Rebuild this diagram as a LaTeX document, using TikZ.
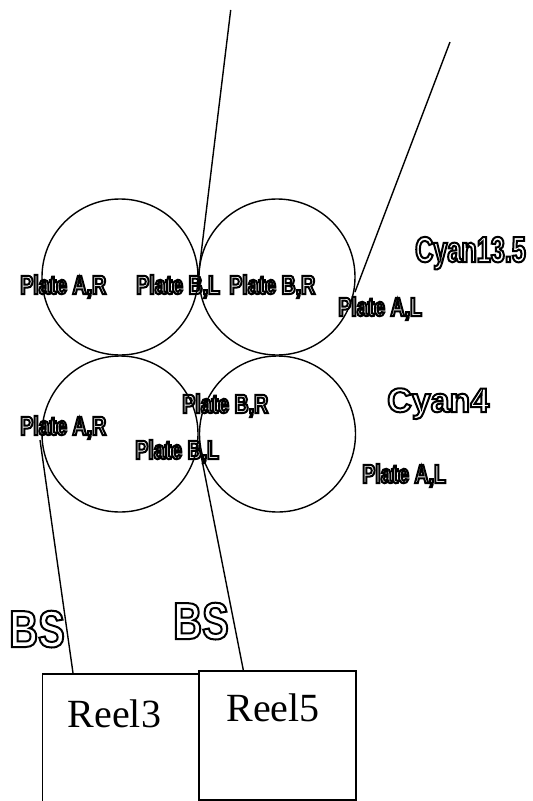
\documentclass[tikz,border=0pt]{standalone}
\usepackage{fontspec}
\setmainfont{Liberation Serif}
\newfontfamily\plfont{Liberation Sans}[FakeStretch=0.74]
\newfontfamily\cyfont{Liberation Sans}[FakeStretch=0.70]
\newfontfamily\bsfont{Liberation Sans}[FakeStretch=0.77]
\newfontfamily\cyfourfont{Liberation Sans}
\newcommand\hollow[1]{\special{pdf:literal direct 1 Tr 2 w}#1\special{pdf:literal direct 0 Tr}}
\tikzset{
  roll/.style={circle, draw, line width=1.4pt, minimum size=156pt, inner sep=0pt},
  web/.style={line width=1.4pt},
  reelbox/.style={rectangle, draw, line width=1.5pt, inner sep=0pt, anchor=north west, fill=white,
    font=\fontsize{40}{40}\selectfont},
  platelbl/.style={anchor=base west, inner sep=0pt, font=\plfont\bfseries\fontsize{26.5}{26.5}\selectfont},
  cylbl/.style={anchor=base west, inner sep=0pt, font=\cyfont\bfseries\fontsize{36}{36}\selectfont},
  cyfourlbl/.style={anchor=base west, inner sep=0pt, font=\cyfourfont\bfseries\fontsize{34}{34}\selectfont},
  bslbl/.style={anchor=base west, inner sep=0pt, font=\bsfont\bfseries\fontsize{52}{52}\selectfont},
}
\begin{document}
\begin{tikzpicture}[x=1pt,y=-1pt]
\useasboundingbox (0,0) rectangle (533,801);
% rolls
\node[roll] (c1) at (120,277) {};
\node[roll] (c2) at (277,277) {};
\node[roll] (c3) at (120,434) {};
\node[roll] (c4) at (277.5,434) {};
% web end points
\coordinate (t1) at (230.7,10);
\coordinate (n1) at (198.5,275);
\coordinate (t2) at (450,42);
\coordinate (n2) at (355,292);
\coordinate (n3) at (40,440);
\coordinate (r3) at (73,673);
\coordinate (n4) at (199,445);
\coordinate (r5) at (243.3,670);
\draw[web] (t1) -- (n1);
\draw[web] (t2) -- (n2);
\draw[web] (n3) -- (r3);
\draw[web] (n4) -- (r5);
% reels
\node[reelbox, minimum width=156.5pt, text height=53.7pt, text depth=140pt] (reel3) at (41.7,673) {\makebox[130pt][l]{\hspace*{12pt}Reel3}};
\node[reelbox, minimum width=156.7pt, text height=50.7pt, text depth=78.3pt] (reel5) at (198.3,670) {\makebox[130pt][l]{\hspace*{14pt}Reel5}};
% labels
\node[platelbl] (pAR1) at (20,294) {\hollow{Plate A,R}};
\node[platelbl] (pBL1) at (136,294) {\hollow{Plate B,L}};
\node[platelbl] (pBR1) at (229,294) {\hollow{Plate B,R}};
\node[platelbl] (pAL1) at (338,316) {\hollow{Plate A,L}};
\node[cylbl] (cy135) at (415,262) {\hollow{Cyan13.5}};
\node[platelbl] (pAR2) at (20,435) {\hollow{Plate A,R}};
\node[platelbl] (pBR2) at (182,413) {\hollow{Plate B,R}};
\node[platelbl] (pBL2) at (135,459) {\hollow{Plate B,L}};
\node[platelbl] (pAL2) at (362,483) {\hollow{Plate A,L}};
\node[cyfourlbl] (cy4) at (387,412) {\hollow{Cyan4}};
\node[bslbl] (bs1) at (9,647) {\hollow{BS}};
\node[bslbl] (bs2) at (173,639) {\hollow{BS}};
\end{tikzpicture}
\end{document}
